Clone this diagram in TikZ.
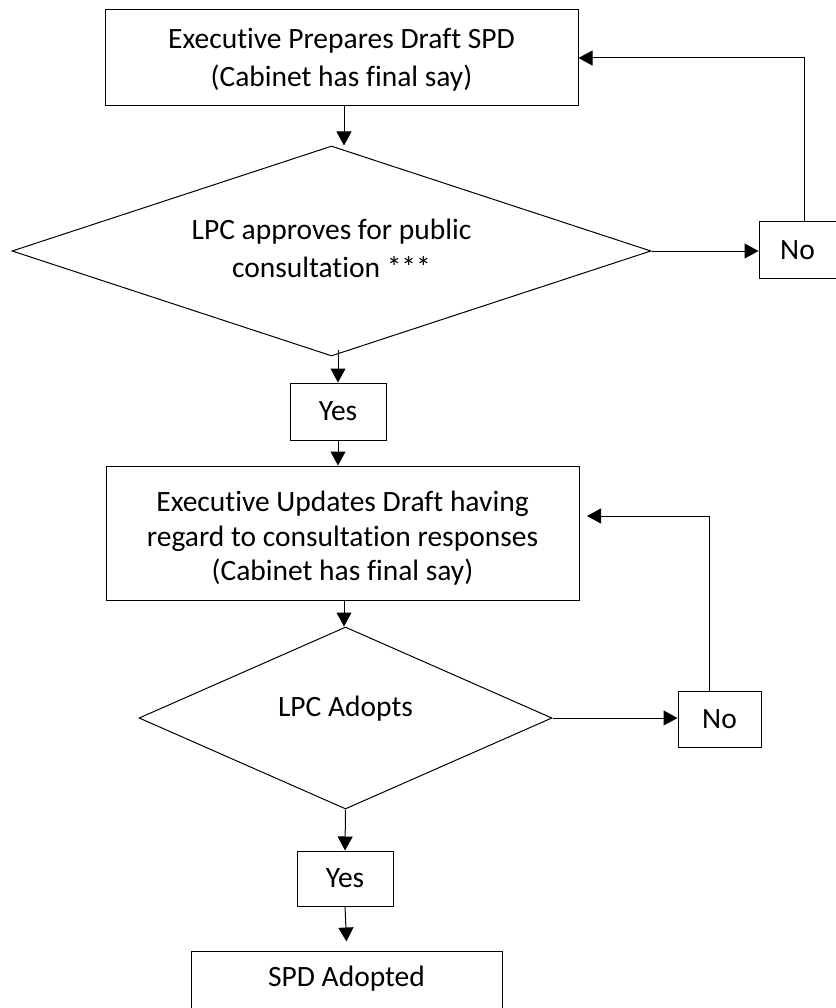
\documentclass[tikz,border=0pt]{standalone}
\usepackage{fontspec}
\setmainfont{Carlito}[Ligatures=NoCommon]
\usetikzlibrary{shapes.geometric,arrows.meta}
\begin{document}
\begin{tikzpicture}[x=1pt,y=-1pt,
  every node/.style={font=\fontsize{29.5}{38}\selectfont},
  box/.style={draw, line width=1pt, inner sep=0pt, align=center},
  dia/.style={draw, diamond, line width=1pt, inner sep=0pt},
  txt/.style={align=center, inner sep=0pt},
  arr/.style={line width=1pt, -{Triangle[length=14pt,width=15pt]}}]
\useasboundingbox (0,0) rectangle (835,1008);
% boxes
\node[box, minimum width=473pt, minimum height=96pt] (b1) at (341.5,58) {};
\node[txt] (b1t) at (341.5,60) {Executive Prepares Draft SPD\\(Cabinet has final say)};
\node[dia, minimum width=639pt, minimum height=210pt] (d1) at (331.5,251) {};
\node[txt] (t1) at (331.5,248) {LPC approves for public\\consultation ***};
\node[box, minimum width=96pt, minimum height=57pt] (y1) at (338,411.5) {Yes};
\node[box, minimum width=77pt, minimum height=56pt] (n1) at (797.5,250) {No};
\node[box, minimum width=473pt, minimum height=134pt] (b2) at (342.5,533) {};
\node[txt, font=\fontsize{29.5}{34.5}\selectfont] (b2t) at (342.5,538.5) {Executive Updates Draft having\\regard to consultation responses\\(Cabinet has final say)};
\node[dia, minimum width=413pt, minimum height=182pt] (d2) at (345.5,718) {};
\node[txt] (t2) at (345.5,709) {LPC Adopts};
\node[box, minimum width=83pt, minimum height=56pt] (n2) at (719.5,719) {No};
\node[box, minimum width=96pt, minimum height=55pt] (y2) at (345,878.5) {Yes};
\node[box, minimum width=311pt, minimum height=61pt] (sp) at (346.5,981.5) {};
\node[txt] (spt) at (346.5,979) {SPD Adopted};
\coordinate (r2) at (587,516);
% connectors
\draw[arr] ([xshift=2.5pt]b1.south) -- ([xshift=2.5pt]b1.south |- d1.north);
\draw[arr] ([yshift=7pt]y1.north |- d1.south) -- (y1.north);
\draw[arr] (d1.east) -- (d1.east -| n1.west);
\draw[arr] ([xshift=6.5pt]n1.north) |- (b1.east);
\draw[arr] (y1.south) -- (y1.south |- b2.north);
\draw[arr] ([xshift=1.5pt]b2.south) -- ([xshift=1.5pt]b2.south |- d2.north);
\draw[arr] (d2.east) -- (d2.east -| n2.west);
\draw[arr] ([xshift=-10.5pt]n2.north) |- (r2);
\draw[arr] (d2.south) -- (y2.north);
\draw[arr] (y2.south) -- ([yshift=9pt]sp.north);
\end{tikzpicture}
\end{document}
